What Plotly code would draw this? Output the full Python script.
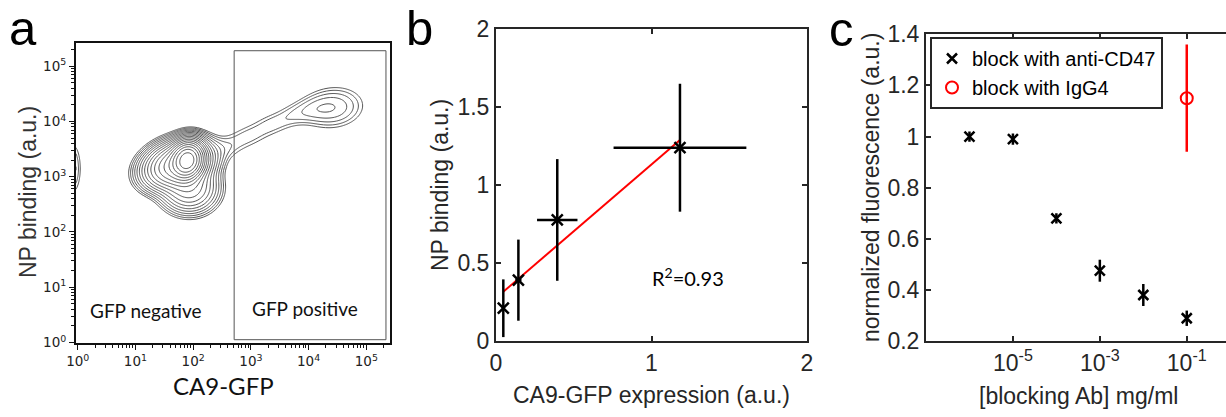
import numpy as np
import plotly.graph_objects as go

W, H = 1226, 417

# ---------------- Panel a: flow cytometry populations (log10 units) ----------------
pop_cx = [1.90, 1.74, 1.93, 2.55, 2.95, 3.35, 3.75, 4.10, 4.42, -0.10]
pop_cy = [3.30, 3.22, 2.80, 3.52, 3.73, 3.94, 4.12, 4.22, 4.25, 3.15]
pop_sx = [0.13, 0.27, 0.24, 0.22, 0.22, 0.22, 0.22, 0.22, 0.30, 0.10]
pop_sy = [0.16, 0.20, 0.22, 0.14, 0.14, 0.14, 0.14, 0.14, 0.21, 0.30]
pop_rho = [0.1, 0.25, 0.0, 0.3, 0.3, 0.3, 0.3, 0.2, 0.1, 0.0]
pop_w = [1.0, 0.25, 0.05, 0.0026, 0.0026, 0.0026, 0.0026, 0.0026, 0.007, 0.0045]
gate_log_x = [2.71, 5.34]
gate_log_y = [0.05, 5.28]
decades = [0, 1, 2, 3, 4, 5]

# ---------------- Panel b ----------------
b_x = [0.047, 0.144, 0.394, 1.183]
b_y = [0.21, 0.39, 0.776, 1.239]
b_xerr = [0.01, 0.02, 0.13, 0.427]
b_yerr = [0.185, 0.26, 0.39, 0.41]
b_r2 = "R<sup>2</sup>=0.93"

# ---------------- Panel c ----------------
c_conc = [1e-6, 1e-5, 1e-4, 1e-3, 1e-2, 1e-1]
c_cd47 = [1.0, 0.99, 0.68, 0.475, 0.38, 0.289]
c_cd47_err = [0.02, 0.022, 0.02, 0.043, 0.043, 0.03]
c_igg4_conc = [1e-1]
c_igg4 = [1.15]
c_igg4_err = [0.21]

AX = "#262626"
ARIAL = "Liberation Sans, Arial, sans-serif"
CAL = "Lato, Open Sans, sans-serif"

def px2x(p):
    return p / W

def py2y(p):
    return 1 - p / H

fig = go.Figure()

# density grid for contour
gx = np.linspace(-0.03, 5.41, 320)
gy = np.linspace(-0.01, 5.42, 320)
XX, YY = np.meshgrid(gx, gy)
dens = np.zeros_like(XX)
for cx, cy, sx, sy, r, w in zip(pop_cx, pop_cy, pop_sx, pop_sy, pop_rho, pop_w):
    dx = (XX - cx) / sx
    dy = (YY - cy) / sy
    q = (dx * dx - 2 * r * dx * dy + dy * dy) / (1 - r * r)
    dens += w * np.exp(-0.5 * q)
Z = np.log10(dens + 1e-12)

fig.add_trace(go.Contour(
    x=gx, y=gy, z=Z, xaxis="x", yaxis="y",
    contours=dict(coloring="lines", start=np.log10(0.0016), end=0.1, size=0.17),
    colorscale=[[0, "#505050"], [1, "#505050"]],
    line=dict(width=1, smoothing=1), showscale=False, hoverinfo="skip",
))

# panel b
fit = np.polyfit(b_x, b_y, 1)
fx = np.array([min(b_x), max(b_x)])
fig.add_trace(go.Scatter(x=fx, y=np.polyval(fit, fx), mode="lines",
                         line=dict(color="red", width=2), xaxis="x2", yaxis="y2", showlegend=False))
fig.add_trace(go.Scatter(
    x=b_x, y=b_y, mode="markers", xaxis="x2", yaxis="y2", showlegend=False,
    marker=dict(symbol="x-thin-open", size=11, line=dict(color="black", width=2.5), color="black"),
    error_x=dict(type="data", array=b_xerr, color="black", thickness=2.5, width=0),
    error_y=dict(type="data", array=b_yerr, color="black", thickness=2.5, width=0),
))

# panel c
fig.add_trace(go.Scatter(
    x=c_conc, y=c_cd47, mode="markers", xaxis="x3", yaxis="y3", name="block with anti-CD47",
    marker=dict(symbol="x-thin-open", size=10, line=dict(color="black", width=2.5), color="black"),
    error_y=dict(type="data", array=c_cd47_err, color="black", thickness=2.5, width=0),
))
fig.add_trace(go.Scatter(
    x=c_igg4_conc, y=c_igg4, mode="markers", xaxis="x3", yaxis="y3", name="block with IgG4",
    marker=dict(symbol="circle-open", size=12, line=dict(color="red", width=2), color="red"),
    error_y=dict(type="data", array=c_igg4_err, color="red", thickness=2.5, width=0),
))

minor_a = [d + np.log10(k) for d in decades for k in range(2, 10) if d + np.log10(k) < 5.41]
dec_text = ["10<sup>%d</sup>" % d for d in decades]
tickfont_a = dict(family="DejaVu Sans, Verdana, sans-serif", size=13.5, color="#222")

common_a = dict(showgrid=False, zeroline=False, showline=True, linecolor="#111", linewidth=2,
                mirror=True, ticks="outside", ticklen=5, tickwidth=1, tickcolor="#111",
                automargin=False,
                tickmode="array", tickvals=decades, ticktext=dec_text, tickfont=tickfont_a,
                minor=dict(tickmode="array", tickvals=minor_a, ticks="outside", ticklen=3,
                           tickwidth=1, tickcolor="#111"))

matlab = dict(showgrid=False, zeroline=False, showline=True, linecolor=AX, linewidth=2,
              ticks="inside", ticklen=5, tickwidth=2, tickcolor=AX, automargin=False,
              tickfont=dict(family=ARIAL, size=23, color=AX))

fig.update_layout(
    width=W, height=H, margin=dict(l=0, r=0, t=0, b=0, autoexpand=False),
    paper_bgcolor="white", plot_bgcolor="white",
    xaxis=dict(domain=[px2x(76), px2x(390)], range=[-0.03, 5.41], anchor="y", **common_a),
    yaxis=dict(domain=[py2y(343), py2y(43)], range=[-0.01, 5.42], anchor="x", **common_a),
    xaxis2=dict(domain=[px2x(496), px2x(807)], range=[0, 2], anchor="y2", mirror="ticks",
                tickmode="array", tickvals=[0, 1, 2], ticktext=["0", "1", "2"], **matlab),
    yaxis2=dict(domain=[py2y(341), py2y(29)], range=[0, 2], anchor="x2", mirror="ticks",
                tickmode="array", tickvals=[0, 0.5, 1, 1.5, 2],
                ticktext=["0", "0.5", "1", "1.5", "2"], **matlab),
    xaxis3=dict(domain=[px2x(926), 1.0], type="log", range=[-7, -0.097], anchor="y3", mirror="ticks",
                tickmode="array", tickvals=[1e-5, 1e-3, 1e-1],
                ticktext=["10<sup>-5</sup>", "10<sup>-3</sup>", "10<sup>-1</sup>"], **matlab),
    yaxis3=dict(domain=[py2y(341), py2y(34.3)], range=[0.2, 1.4], anchor="x3", mirror=False,
                tickmode="array", tickvals=[0.2, 0.4, 0.6, 0.8, 1.0, 1.2, 1.4],
                ticktext=["0.2", "0.4", "0.6", "0.8", "1", "1.2", "1.4"], **matlab),
    legend=dict(x=px2x(930), y=py2y(37), xanchor="left", yanchor="top",
                bgcolor="white", bordercolor=AX, borderwidth=2,
                font=dict(family=ARIAL, size=20, color="black"), tracegroupgap=0),
    shapes=[dict(type="rect", xref="x", yref="y", x0=gate_log_x[0], x1=gate_log_x[1],
                 y0=gate_log_y[0], y1=gate_log_y[1], line=dict(color="#555", width=1))],
)

ann = []
def A(text, x, y, size, family, color="black", angle=0, xanchor="center", yanchor="middle"):
    ann.append(dict(text=text, x=px2x(x), y=py2y(y), xref="paper", yref="paper", showarrow=False,
                    font=dict(size=size, family=family, color=color), textangle=angle,
                    xanchor=xanchor, yanchor=yanchor, borderpad=0))

A("a", 22.5, 0, 49, ARIAL, yanchor="top")
A("b", 419, 0, 49, ARIAL, yanchor="top")
A("c", 841, 1, 49, ARIAL, yanchor="top")
A("GFP negative", 145, 310, 19, CAL, "#111")
A("GFP positive", 305, 308, 19, CAL, "#111")
A("CA9-GFP", 223, 385, 24, CAL, "#111")
A("NP binding (a.u.)", 28, 192, 23, ARIAL, "#333", angle=-90)
A("NP binding (a.u.)", 440, 185, 23, ARIAL, AX, angle=-90)
A("CA9-GFP expression (a.u.)", 651, 395, 23, ARIAL, AX)
A(b_r2, 688, 277, 20, CAL, "black")
A("normalized fluorescence (a.u.)", 871, 188, 23, ARIAL, AX, angle=-90)
A("[blocking Ab] mg/ml", 1078, 396, 23, ARIAL, AX)
fig.update_layout(annotations=ann)

fig.write_html("out.html", config={"displayModeBar": False},
               post_script="document.body.style.margin='0px';")
